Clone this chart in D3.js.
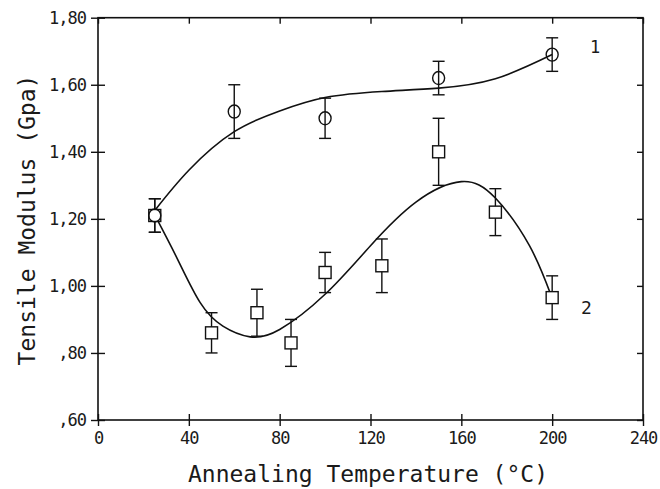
<!DOCTYPE html>
<meta charset="utf-8">
<style>
  body { margin: 0; background: #fff; }
  svg { display: block; }
  text { font-family: "DejaVu Sans Mono", monospace; fill: #1a1a1a; }
  .frame { fill: none; stroke: #111; stroke-width: 1.6px; }
  .fit { fill: none; stroke: #111; stroke-width: 1.6px; }
  .err { stroke: #111; stroke-width: 1.4px; }
  .mark { fill: #fff; stroke: #111; stroke-width: 1.4px; }
  .tick line { stroke: #111; stroke-width: 1.4px; }
</style>
<body>
<script src="https://cdn.jsdelivr.net/npm/d3@7"></script>
<script>

  // measured points with error bars (temperature, modulus, low, high)
  var tempCircle = [25, 60, 100, 150, 200];
  var modCircle  = [1.21, 1.52, 1.50, 1.62, 1.69];
  var lowCircle  = [1.16, 1.44, 1.44, 1.57, 1.64];
  var highCircle = [1.26, 1.60, 1.56, 1.67, 1.74];

  var tempSquare = [25, 50, 70, 85, 100, 125, 150, 175, 200];
  var modSquare  = [1.21, 0.86, 0.92, 0.83, 1.04, 1.06, 1.40, 1.22, 0.965];
  var lowSquare  = [1.16, 0.80, 0.85, 0.76, 0.98, 0.98, 1.30, 1.15, 0.90];
  var highSquare = [1.26, 0.92, 0.99, 0.90, 1.10, 1.14, 1.50, 1.29, 1.03];

  // fitted curves
  var fit1T = [25, 40, 60, 80, 100, 125, 150, 175, 200];
  var fit1M = [1.225, 1.345, 1.46, 1.522, 1.562, 1.580, 1.590, 1.618, 1.69];
  var fit2T = [25.5, 35, 45, 55, 67, 80, 100, 120, 140, 160, 175, 190, 199.5];
  var fit2M = [1.205, 1.08, 0.95, 0.88, 0.848, 0.87, 0.975, 1.12, 1.25, 1.311, 1.262, 1.12, 0.972];

  var xTicks = [0, 40, 80, 120, 160, 200, 240];
  var yTicks = [0.6, 0.8, 1.0, 1.2, 1.4, 1.6, 1.8];
  var yTickLabels = [",60", ",80", "1,00", "1,20", "1,40", "1,60", "1,80"];

  var W = 660, H = 489;
  var plotL = 98, plotR = 643, plotT = 17.7, plotB = 420;

  var x = d3.scaleLinear().domain([0, 240]).range([plotL, plotR]);
  var y = d3.scaleLinear().domain([0.6, 1.8]).range([plotB, plotT]);

  var svg = d3.select("body").append("svg")
    .attr("width", W)
    .attr("height", H);

  // frame
  svg.append("rect")
    .attr("class", "frame")
    .attr("x", plotL).attr("y", plotT)
    .attr("width", plotR - plotL).attr("height", plotB - plotT);

  // left axis (ticks cross the line)
  var yAxis = svg.append("g")
    .attr("transform", "translate(" + plotL + ",0)")
    .call(d3.axisLeft(y).tickValues(yTicks).tickSize(0).tickPadding(12)
      .tickFormat(function(d, i) { return yTickLabels[i]; }));
  yAxis.select(".domain").remove();
  yAxis.selectAll(".tick line").attr("x1", -7).attr("x2", 7);
  yAxis.selectAll("text")
    .style("font-size", "17px").style("letter-spacing", "-1px");

  // bottom axis
  var xAxis = svg.append("g")
    .attr("transform", "translate(0," + plotB + ")")
    .call(d3.axisBottom(x).tickValues(xTicks).tickSize(0).tickPadding(12));
  xAxis.select(".domain").remove();
  xAxis.selectAll(".tick line").attr("y1", -6).attr("y2", 6);
  xAxis.selectAll("text")
    .style("font-size", "17px").style("letter-spacing", "-1px");

  // top and right inward ticks
  var topAxis = svg.append("g")
    .attr("transform", "translate(0," + plotT + ")")
    .call(d3.axisTop(x).tickValues(xTicks).tickSize(-6).tickFormat(""));
  topAxis.select(".domain").remove();

  var rightAxis = svg.append("g")
    .attr("transform", "translate(" + plotR + ",0)")
    .call(d3.axisRight(y).tickValues(yTicks).tickSize(-6).tickFormat(""));
  rightAxis.select(".domain").remove();

  // fitted lines
  var line = d3.line()
    .x(function(d) { return x(d[0]); })
    .y(function(d) { return y(d[1]); })
    .curve(d3.curveNatural);

  svg.append("path").attr("class", "fit")
    .attr("d", line(d3.zip(fit1T, fit1M)));
  svg.append("path").attr("class", "fit")
    .attr("d", line(d3.zip(fit2T, fit2M)));

  // error bars
  function errorBars(ts, lo, hi) {
    var g = svg.append("g");
    ts.forEach(function(t, i) {
      g.append("line").attr("class", "err")
        .attr("x1", x(t)).attr("x2", x(t))
        .attr("y1", y(lo[i])).attr("y2", y(hi[i]));
      [lo[i], hi[i]].forEach(function(v) {
        g.append("line").attr("class", "err")
          .attr("x1", x(t) - 6).attr("x2", x(t) + 6)
          .attr("y1", y(v)).attr("y2", y(v));
      });
    });
  }
  errorBars(tempSquare, lowSquare, highSquare);
  errorBars(tempCircle, lowCircle, highCircle);

  // markers
  svg.append("g").selectAll("rect")
    .data(d3.zip(tempSquare, modSquare))
    .join("rect")
    .attr("class", "mark")
    .attr("x", function(d) { return x(d[0]) - 6; })
    .attr("y", function(d) { return y(d[1]) - 6; })
    .attr("width", 12).attr("height", 12);

  svg.append("g").selectAll("ellipse")
    .data(d3.zip(tempCircle, modCircle))
    .join("ellipse")
    .attr("class", "mark")
    .style("fill", "none")
    .attr("cx", function(d) { return x(d[0]); })
    .attr("cy", function(d) { return y(d[1]); })
    .attr("rx", 6).attr("ry", 6.5);

  // curve labels
  svg.append("text").attr("x", 590).attr("y", 53)
    .style("font-size", "17px").text("1");
  svg.append("text").attr("x", 581).attr("y", 314)
    .style("font-size", "18px").text("2");

  // axis titles
  svg.append("text")
    .attr("x", 368).attr("y", 482)
    .attr("text-anchor", "middle")
    .style("font-size", "23px")
    .text("Annealing Temperature (°C)");

  svg.append("text")
    .attr("transform", "translate(35,220) rotate(-90)")
    .attr("text-anchor", "middle")
    .style("font-size", "23px")
    .text("Tensile Modulus (Gpa)");

</script>
</body>
